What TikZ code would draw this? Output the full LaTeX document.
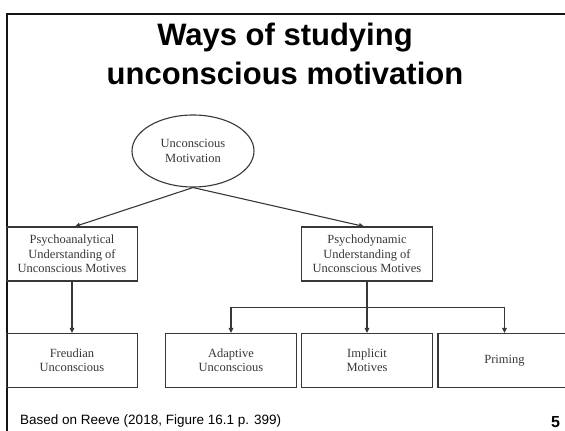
\documentclass[tikz,border=0pt]{standalone}
\usepackage{fontspec}
\setmainfont{Liberation Serif}
\newfontfamily\slidefont{Liberation Sans}
\usepackage{xcolor}
\usetikzlibrary{arrows.meta, calc, shapes.geometric}
\definecolor{inkgray}{RGB}{55,55,55}
\definecolor{framegray}{RGB}{20,20,20}

\begin{document}
\begin{tikzpicture}[x=1pt, y=-1pt,
  box/.style={rectangle, draw=inkgray, line width=1.1pt, text=inkgray,
              minimum width=131pt, minimum height=54pt, inner sep=1pt,
              align=center, font=\fontsize{12.5}{14.3}\selectfont},
  oval/.style={ellipse, draw=inkgray, line width=1.1pt, text=inkgray,
               minimum width=122pt, minimum height=72pt, inner sep=0pt,
               align=center, font=\fontsize{12.5}{14.3}\selectfont},
  arr/.style={draw=inkgray, line width=1.1pt,
              -{Triangle[length=5pt, width=4.5pt]}}
]
  \useasboundingbox (0,0) rectangle (565,431);

  %% ── slide frame and title ──
  \draw[framegray, line width=2pt] (7,440) -- (7,13.7) -- (575,13.7);
  \node[align=center, font=\slidefont\bfseries\fontsize{31}{38.5}\selectfont]
    (title) at (285,54) {Ways of studying\\unconscious motivation};

  %% ── nodes ──
  \node[oval] (UM) at (193,151)   {Unconscious\\Motivation};
  \node[box]  (PA) at (72,254)    {Psychoanalytical\\Understanding of\\Unconscious Motives};
  \node[box]  (PD) at (367,254)   {Psychodynamic\\Understanding of\\Unconscious Motives};
  \node[box]  (FU) at (72,360.5)  {Freudian\\Unconscious};
  \node[box]  (AU) at (231,360.5) {Adaptive\\Unconscious};
  \node[box]  (IM) at (367,360.5) {Implicit\\Motives};
  \node[box, minimum width=133pt] (PR) at (504.5,360.5) {Priming};

  %% ── arrows ──
  \draw[arr] (UM.south) -- ([xshift=3pt]PA.north);
  \draw[arr] (UM.south) -- ([xshift=-3pt]PD.north);
  \draw[arr] (PA.south) -- (FU.north);
  \draw[arr] (PD.south) -- (IM.north);

  \coordinate (bar) at ($(PD.south)!0.5!(IM.north)$);
  \draw[inkgray, line width=1.1pt] (bar -| AU) -- (bar -| PR);
  \draw[arr] (bar -| AU) -- (AU.north);
  \draw[arr] (bar -| PR) -- (PR.north);

  %% ── footer ──
  \node[anchor=base west, inner sep=0pt, font=\slidefont\fontsize{13.5}{16}\selectfont]
    (src) at (20,424) {Based on Reeve (2018, Figure 16.1 p. 399)};
  \node[anchor=base, inner sep=0pt, font=\slidefont\bfseries\fontsize{16}{19}\selectfont]
    (page) at (555.5,427) {5};
\end{tikzpicture}
\end{document}
